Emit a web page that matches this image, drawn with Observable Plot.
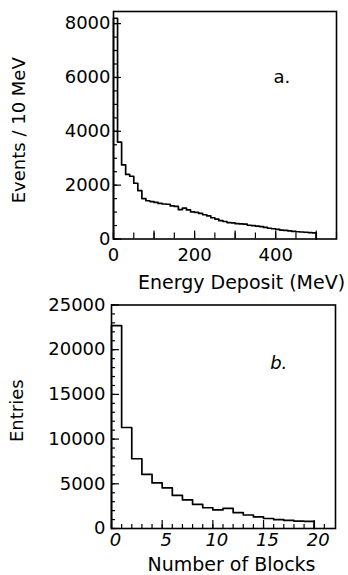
<!DOCTYPE html>
<html><head><meta charset="utf-8">
<script src="https://cdn.jsdelivr.net/npm/d3@7"></script>
<script src="https://cdn.jsdelivr.net/npm/@observablehq/plot@0.6"></script>
<style>
html,body{margin:0;padding:0;background:#fff;}
#chart{width:348px;height:575px;overflow:hidden;}
#chart svg{display:block;}
</style></head><body><div id="chart"></div>
<script>
// Panel a: energy deposit histogram (10 MeV bins)
const energyBinWidth = 10;
const energyBinStart = [0,10,20,30,40,50,60,70,80,90,100,110,120,130,140,150,160,170,180,190,200,210,220,230,240,250,260,270,280,290,300,310,320,330,340,350,360,370,380,390,400,410,420,430,440,450,460,470,480,490];
const energyCounts = [8200,3600,2750,2400,2330,2070,1800,1500,1420,1390,1360,1320,1300,1290,1230,1210,1090,1150,1080,1010,990,950,900,860,790,740,680,650,610,600,570,560,550,510,500,480,460,430,400,380,360,330,320,300,280,270,260,250,240,230];
const energyXTicks = [0,200,400];
const energyYTicks = [0,2000,4000,6000,8000];

// Panel b: number of blocks histogram (unit bins)
const blockBinWidth = 1;
const blockBinStart = [0,1,2,3,4,5,6,7,8,9,10,11,12,13,14,15,16,17,18,19];
const blockCounts = [22700,11300,7800,6050,5100,4550,3700,3200,2700,2320,2080,2250,1780,1510,1300,1120,990,900,820,800];
const blockXTicks = [0,5,10,15,20];
const blockYTicks = [0,5000,10000,15000,20000,25000];

function steps(starts, counts, w) {
  const pts = [{x: starts[0], y: 0}];
  starts.forEach((s, i) => pts.push({x: s, y: counts[i]}));
  const end = starts[starts.length - 1] + w;
  pts.push({x: end, y: counts[counts.length - 1]});
  pts.push({x: end, y: 0});
  return pts;
}

const fmt = d => String(d);
const font = {fontFamily: "DejaVu Sans", fontSize: "18px", color: "#000", background: "#fff", overflow: "visible"};
const W = 348;

// ---- Panel a ----
const A = {h: 292, mt: 11, mb: 53.5, ml: 113, mr: 12};
const aW = W - A.ml - A.mr, aH = A.h - A.mt - A.mb;
const plotA = Plot.plot({
  width: W, height: A.h, marginTop: A.mt, marginBottom: A.mb, marginLeft: A.ml, marginRight: A.mr,
  style: font,
  x: {domain: [0, 550]},
  y: {domain: [0, 8450]},
  marks: [
    Plot.tickY(d3.range(0, 8451, 500), {y: d => d, insetRight: aW - 4, stroke: "#000", strokeWidth: 1.2}),
    Plot.tickY(energyYTicks, {y: d => d, insetRight: aW - 8, stroke: "#000", strokeWidth: 1.2}),
    Plot.tickX(d3.range(0, 551, 50), {x: d => d, insetTop: aH - 6, stroke: "#000", strokeWidth: 1.2}),
    Plot.tickX(d3.range(0, 551, 100), {x: d => d, insetTop: aH - 8, stroke: "#000", strokeWidth: 1.2}),
    Plot.line(steps(energyBinStart, energyCounts, energyBinWidth), {x: "x", y: "y", curve: "step-after", stroke: "#000", strokeWidth: 1.7}),
    Plot.frame({stroke: "#000", strokeWidth: 1.6}),
    Plot.axisX({ticks: energyXTicks, tickFormat: fmt, tickSize: 0, tickPadding: 9, label: null, fontSize: 18}),
    Plot.axisY({ticks: energyYTicks, tickFormat: fmt, tickSize: 0, tickPadding: 3, label: null, fontSize: 18}),
    Plot.text(["Events / 10 MeV"], {text: d => d, frameAnchor: "left", textAnchor: "middle", lineAnchor: "middle", rotate: -90, dx: -94, dy: 5, fontSize: 18}),
    Plot.text(["Energy Deposit (MeV)"], {text: d => d, frameAnchor: "bottom", textAnchor: "middle", lineAnchor: "middle", dx: 16.5, dy: 43.5, fontSize: 19}),
    Plot.text(["a."], {text: d => d, x: 415, y: 6000, fontSize: 18})
  ]
});

// ---- Panel b ----
const B = {h: 283, mt: 12.5, mb: 47, ml: 111, mr: 13};
const bW = W - B.ml - B.mr, bH = B.h - B.mt - B.mb;
const plotB = Plot.plot({
  width: W, height: B.h, marginTop: B.mt, marginBottom: B.mb, marginLeft: B.ml, marginRight: B.mr,
  style: font,
  x: {domain: [0, 22.1]},
  y: {domain: [0, 25000]},
  marks: [
    Plot.tickY(d3.range(0, 25001, 1000), {y: d => d, insetRight: bW - 4, stroke: "#000", strokeWidth: 1.2}),
    Plot.tickY(blockYTicks, {y: d => d, insetRight: bW - 8, stroke: "#000", strokeWidth: 1.2}),
    Plot.tickX(d3.range(0, 22, 1), {x: d => d, insetTop: bH - 4, stroke: "#000", strokeWidth: 1.2}),
    Plot.tickX(blockXTicks, {x: d => d, insetTop: bH - 8, stroke: "#000", strokeWidth: 1.2}),
    Plot.line(steps(blockBinStart, blockCounts, blockBinWidth), {x: "x", y: "y", curve: "step-after", stroke: "#000", strokeWidth: 1.7}),
    Plot.frame({stroke: "#000", strokeWidth: 1.6}),
    Plot.axisX({ticks: blockXTicks, tickFormat: fmt, tickSize: 0, tickPadding: 5, dx: 4, label: null, fontSize: 18, fontStyle: "italic"}),
    Plot.axisY({ticks: blockYTicks, tickFormat: fmt, tickSize: 0, tickPadding: 6, label: null, fontSize: 18}),
    Plot.text(["Entries"], {text: d => d, frameAnchor: "left", textAnchor: "middle", lineAnchor: "middle", rotate: -90, dx: -94, dy: -6, fontSize: 18}),
    Plot.text(["Number of Blocks"], {text: d => d, frameAnchor: "bottom", textAnchor: "middle", lineAnchor: "middle", dx: 8, dy: 36.5, fontSize: 19}),
    Plot.text(["b."], {text: d => d, x: 16.5, y: 18500, fontSize: 18, fontStyle: "italic"})
  ]
});

const chart = document.getElementById("chart");
chart.appendChild(plotA);
chart.appendChild(plotB);
</script>
</body></html>
